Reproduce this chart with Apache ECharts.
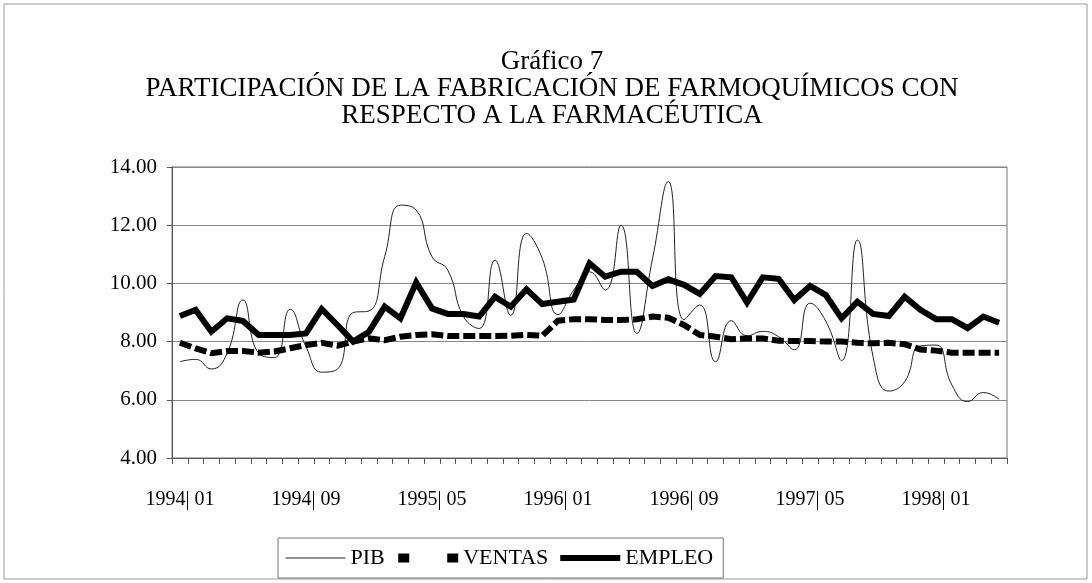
<!DOCTYPE html>
<html>
<head>
<meta charset="utf-8">
<script src="https://cdn.jsdelivr.net/npm/echarts@6/dist/echarts.min.js"></script>
<style>
html, body { margin: 0; padding: 0; background: #fff; }
#grafico { width: 1092px; height: 583px; }
</style>
</head>
<body>
<div id="grafico"></div>
<script>
// meses (eje x)
var meses = [
	'1994| 01','1994| 02','1994| 03','1994| 04','1994| 05','1994| 06','1994| 07','1994| 08','1994| 09','1994| 10','1994| 11','1994| 12',
	'1995| 01','1995| 02','1995| 03','1995| 04','1995| 05','1995| 06','1995| 07','1995| 08','1995| 09','1995| 10','1995| 11','1995| 12',
	'1996| 01','1996| 02','1996| 03','1996| 04','1996| 05','1996| 06','1996| 07','1996| 08','1996| 09','1996| 10','1996| 11','1996| 12',
	'1997| 01','1997| 02','1997| 03','1997| 04','1997| 05','1997| 06','1997| 07','1997| 08','1997| 09','1997| 10','1997| 11','1997| 12',
	'1998| 01','1998| 02','1998| 03','1998| 04','1998| 05'
];

// participacion (%)
var pib = [
	7.31, 7.39, 7.06, 7.60, 9.43, 7.60, 7.45, 9.11, 7.83, 6.95,
	7.05, 9.00, 9.05, 10.92, 12.69, 12.52, 10.92, 10.46, 8.86, 8.45,
	10.80, 8.90, 11.72, 10.86, 8.93, 9.77, 10.40, 9.77, 12.00, 8.28,
	10.85, 13.50, 8.75, 9.26, 7.31, 8.72, 8.20, 8.35, 8.17, 7.72,
	9.32, 8.70, 7.35, 11.49, 7.48, 6.30, 6.62, 7.85, 7.88, 6.51,
	5.94, 6.25, 6.02
];
var ventas = [
	7.96, 7.77, 7.60, 7.68, 7.68, 7.62, 7.66, 7.77, 7.88, 7.96,
	7.86, 8.00, 8.11, 8.05, 8.17, 8.23, 8.25, 8.19, 8.19, 8.19,
	8.19, 8.20, 8.23, 8.20, 8.72, 8.77, 8.77, 8.74, 8.74, 8.77,
	8.86, 8.82, 8.57, 8.23, 8.17, 8.08, 8.11, 8.11, 8.03, 8.02,
	8.02, 8.00, 8.00, 7.96, 7.94, 7.96, 7.91, 7.73, 7.69, 7.62,
	7.62, 7.62, 7.62
];
var empleo = [
	8.88, 9.09, 8.34, 8.80, 8.71, 8.23, 8.23, 8.23, 8.28, 9.12,
	8.57, 8.00, 8.34, 9.20, 8.80, 10.03, 9.14, 8.95, 8.95, 8.86,
	9.54, 9.20, 9.80, 9.29, 9.37, 9.45, 10.69, 10.23, 10.40, 10.40,
	9.91, 10.14, 9.95, 9.64, 10.25, 10.21, 9.34, 10.21, 10.16, 9.43,
	9.91, 9.60, 8.80, 9.37, 8.95, 8.88, 9.54, 9.09, 8.77, 8.77,
	8.46, 8.86, 8.65
];

var titulo = 'Gráfico 7\nPARTICIPACIÓN DE LA FABRICACIÓN DE FARMOQUÍMICOS CON\nRESPECTO A LA FARMACÉUTICA';
var fuente = '"Liberation Serif", "Times New Roman", serif';

var chart = echarts.init(document.getElementById('grafico'));

var option = {
	backgroundColor: '#fff',
	animation: false,
	graphic: [
		// marco exterior del grafico
		{
			type: 'rect',
			shape: { x: 4, y: 4, width: 1083, height: 575 },
			style: { fill: 'none', stroke: '#999', lineWidth: 1 },
			silent: true
		},
		// titulo (centrado un poco a la derecha, como el original)
		{
			type: 'text',
			x: 552,
			y: 48,
			silent: true,
			style: {
				text: titulo,
				fontFamily: fuente,
				fontSize: 27,
				lineHeight: 27,
				fill: '#000',
				textAlign: 'center',
				textVerticalAlign: 'top'
			}
		}
	],
	legend: {
		left: 278,
		top: 538,
		orient: 'horizontal',
		borderColor: '#777',
		borderWidth: 1,
		padding: [9, 10, 9, 7],
		itemWidth: 60,
		itemHeight: 20,
		itemGap: 9,
		itemStyle: { opacity: 0 },
		textStyle: { fontFamily: fuente, fontSize: 22, color: '#000' },
		data: [
			{ name: 'PIB', lineStyle: { width: 1 } },
			{ name: 'VENTAS', lineStyle: { type: [11, 38], width: 9 } },
			{ name: 'EMPLEO', lineStyle: { width: 6 } }
		]
	},
	grid: {
		left: 172,
		right: 85,
		top: 167,
		bottom: 125,
		show: true,
		borderColor: '#777',
		borderWidth: 1,
		containLabel: false,
		outerBoundsMode: 'none'
	},
	xAxis: {
		type: 'category',
		data: meses,
		boundaryGap: true,
		axisLine: { lineStyle: { color: '#555', width: 1 } },
		axisTick: { show: true, interval: 0, length: 6, lineStyle: { color: '#555' } },
		axisLabel: { interval: 7, margin: 32, fontFamily: fuente, fontSize: 20, color: '#000' },
		splitLine: { show: false }
	},
	yAxis: {
		type: 'value',
		min: 4,
		max: 14,
		interval: 2,
		axisLine: { show: true, lineStyle: { color: '#555', width: 1 } },
		axisTick: { show: true, length: 5, lineStyle: { color: '#555' } },
		axisLabel: {
			margin: 15,
			fontFamily: fuente,
			fontSize: 21,
			color: '#000',
			formatter: function (v) { return v.toFixed(2); }
		},
		splitLine: { lineStyle: { color: '#888', width: 1 } }
	},
	series: [
		{
			name: 'PIB',
			type: 'line',
			data: pib,
			smooth: 0.5,
			symbol: 'none',
			lineStyle: { color: '#222', width: 1 },
			itemStyle: { color: '#222' }
		},
		{
			name: 'VENTAS',
			type: 'line',
			data: ventas,
			symbol: 'none',
			lineStyle: { color: '#000', width: 6, type: [12, 4], cap: 'butt', join: 'miter' },
			itemStyle: { color: '#000' }
		},
		{
			name: 'EMPLEO',
			type: 'line',
			data: empleo,
			symbol: 'none',
			lineStyle: { color: '#000', width: 6, join: 'miter' },
			itemStyle: { color: '#000' }
		}
	]
};

chart.setOption(option);
</script>
</body>
</html>
